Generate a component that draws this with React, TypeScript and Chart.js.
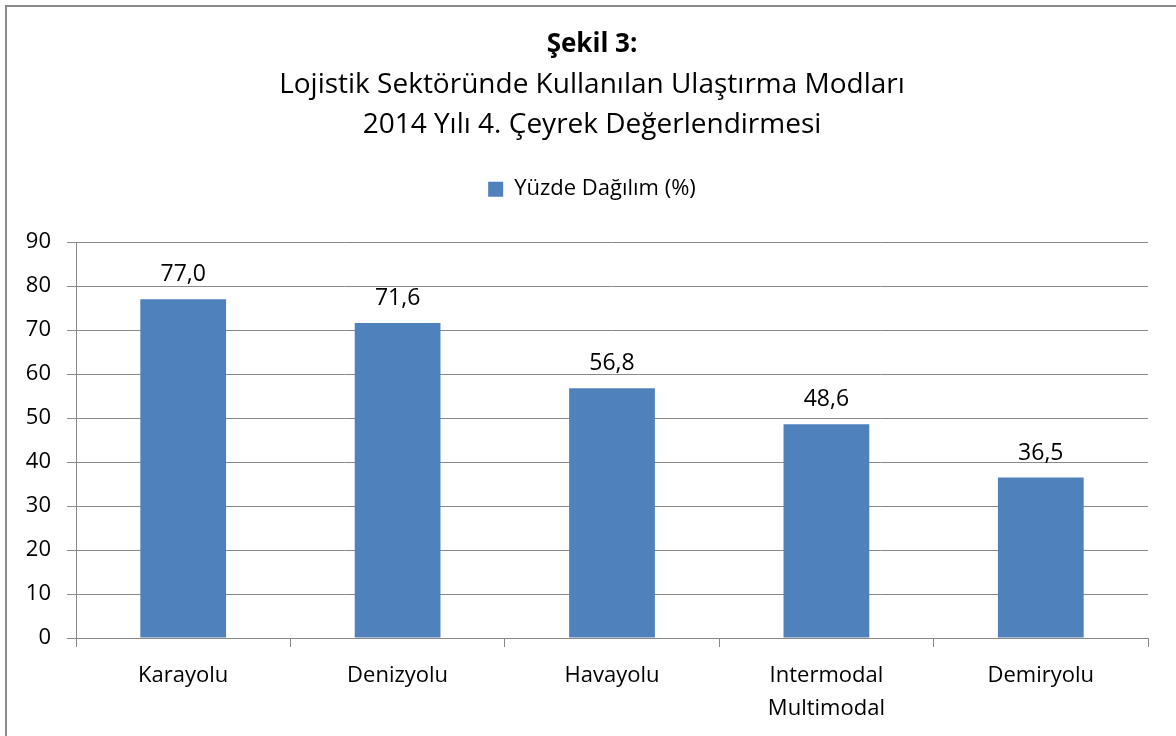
import React, { useEffect, useRef } from "react";
import { Chart, registerables } from "chart.js";

Chart.register(...registerables);

const categories: (string | string[])[] = [
  "Karayolu",
  "Denizyolu",
  "Havayolu",
  ["Intermodal", "Multimodal"],
  "Demiryolu",
];
const seriesLabel = "Yüzde Dağılım (%)";
const values = [77.0, 71.6, 56.8, 48.6, 36.5];
const titleText = "Şekil 3:";
const subtitleLines = [
  "Lojistik Sektöründe Kullanılan Ulaştırma Modları",
  "2014 Yılı 4. Çeyrek Değerlendirmesi",
];
const yMin = 0;
const yMax = 90;
const yStep = 10;

const FONT = "'Open Sans', 'Noto Sans', sans-serif";
const BAR = "#4F81BD";
const GRID = "#898989";

const dataLabels = {
  id: "dataLabels",
  afterDatasetsDraw(chart: any) {
    const { ctx } = chart;
    const meta = chart.getDatasetMeta(0);
    ctx.save();
    ctx.font = `23px ${FONT}`;
    ctx.fillStyle = "#000";
    ctx.textAlign = "center";
    ctx.textBaseline = "bottom";
    meta.data.forEach((el: any, i: number) => {
      const v = chart.data.datasets[0].data[i] as number;
      ctx.fillText(v.toFixed(1).replace(".", ","), el.x, el.y - 13);
    });
    ctx.restore();
  },
};

const legendSpacer = {
  id: "legendSpacer",
  beforeInit(chart: any) {
    const lg = chart.legend;
    if (!lg || lg._spaced) return;
    const orig = lg.fit.bind(lg);
    lg.fit = function () {
      orig();
      this.height += 32;
    };
    lg._spaced = true;
  },
  afterLayout(chart: any) {
    const y = chart.scales.y;
    if (y) {
      y.left = 0;
      y.width = y.right;
    }
  },
};

export default function App() {
  const ref = useRef<HTMLCanvasElement | null>(null);
  useEffect(() => {
    document.body.style.margin = "0";
    if (!ref.current) return;
    const chart = new Chart(ref.current, {
      type: "bar",
      data: {
        labels: categories,
        datasets: [
          {
            label: seriesLabel,
            data: values,
            backgroundColor: BAR,
            borderWidth: 0,
            barPercentage: 0.4,
            categoryPercentage: 1,
          },
        ],
      },
      options: {
        responsive: false,
        animation: false,
        devicePixelRatio: 1,
        layout: { padding: { top: 0, left: 36, right: 28, bottom: 0 } },
        plugins: {
          title: {
            display: true,
            text: titleText,
            color: "#000",
            font: { family: FONT, size: 26, weight: "bold", lineHeight: 1.2 },
            padding: { top: 29, bottom: 0 },
          },
          subtitle: {
            display: true,
            text: subtitleLines,
            color: "#000",
            font: { family: FONT, size: 28, lineHeight: 40 / 28 },
            padding: { top: 5, bottom: 23 },
          },
          legend: {
            display: true,
            position: "top",
            labels: {
              color: "#000",
              font: { family: FONT, size: 22 },
              boxWidth: 15,
              boxHeight: 15,
              padding: 10,
            },
          },
          tooltip: { enabled: false },
        },
        scales: {
          x: {
            grid: {
              offset: true,
              drawOnChartArea: false,
              drawTicks: true,
              tickLength: 9,
              color: GRID,
            },
            border: { color: GRID, width: 1 },
            ticks: {
              color: "#000",
              font: { family: FONT, size: 22, lineHeight: 33 / 22 },
              padding: 12,
              maxRotation: 0,
              autoSkip: false,
            },
            afterFit(scale: any) {
              scale.height = 98;
            },
          },
          y: {
            min: yMin,
            max: yMax,
            grid: {
              color: GRID,
              tickLength: 9,
              drawTicks: true,
            },
            border: { color: GRID, width: 1 },
            ticks: {
              stepSize: yStep,
              color: "#000",
              font: { family: FONT, size: 22 },
              padding: 16,
            },
            afterFit(scale: any) {
              scale.width = 40;
            },
          },
        },
      },
      plugins: [legendSpacer, dataLabels],
    });
    return () => chart.destroy();
  }, []);

  return (
    <div
      style={{
        position: "fixed",
        left: 0,
        top: 0,
        width: 1176,
        height: 736,
        overflow: "hidden",
        background: "#fff",
      }}
    >
      <div
        style={{
          position: "absolute",
          left: 5,
          top: 5,
          width: 1300,
          height: 900,
          border: "2px solid #8a8a8a",
          boxSizing: "border-box",
        }}
      />
      <canvas
        ref={ref}
        width={1176}
        height={736}
        style={{ position: "absolute", left: 0, top: 0, width: 1176, height: 736 }}
      />
    </div>
  );
}
